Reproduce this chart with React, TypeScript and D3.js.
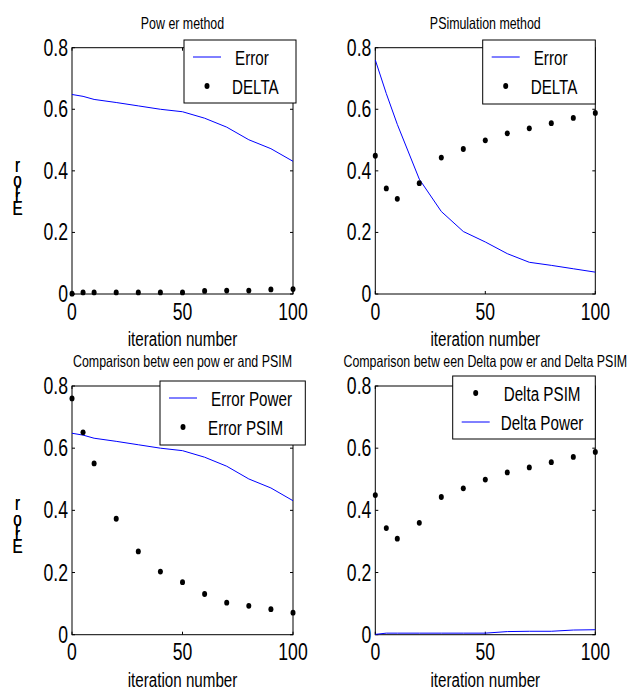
import React, { useEffect, useRef } from 'react';
import * as d3 from 'd3';

// iteration numbers shared by all four panels
const iterations = [0, 5, 10, 20, 30, 40, 50, 60, 70, 80, 90, 100];

const powerError = [0.648, 0.642, 0.632, 0.622, 0.611, 0.600, 0.592, 0.571, 0.542, 0.501, 0.472, 0.431];
const powerDelta = [0.001, 0.005, 0.005, 0.005, 0.005, 0.005, 0.005, 0.010, 0.011, 0.011, 0.015, 0.016];
const psimError = [0.760, 0.651, 0.551, 0.373, 0.268, 0.203, 0.169, 0.131, 0.103, 0.093, 0.082, 0.071];
const psimDelta = [0.449, 0.343, 0.309, 0.360, 0.443, 0.471, 0.499, 0.522, 0.538, 0.555, 0.572, 0.588];

const xTicks = [0, 50, 100];
const yTicks = [0, 0.2, 0.4, 0.6, 0.8];

const titles = [
  'Pow er method',
  'PSimulation method',
  'Comparison betw een pow er and PSIM',
  'Comparison betw een Delta pow er and Delta PSIM',
];

const WIDTH = 632;
const HEIGHT = 691;
const FONT = "'Liberation Sans', Arial, sans-serif";
const SQUEEZE = 0.8;
const STRETCH = 1.05;

type Kind = 'line' | 'dot';
interface Series { values: number[]; kind: Kind; label: string; }
interface Panel {
  title: string;
  left: number; right: number; top: number; bottom: number;
  series: Series[]; // in legend order
  legend: { x: number; y: number; w: number; h: number };
}

const cols = [{ left: 72, right: 293 }, { left: 375.3, right: 595.3 }];
const rows = [{ top: 47.7, bottom: 294 }, { top: 386, bottom: 634.7 }];

const panels: Panel[] = [
  {
    title: titles[0], ...cols[0], ...rows[0],
    series: [
      { values: powerError, kind: 'line', label: 'Error' },
      { values: powerDelta, kind: 'dot', label: 'DELTA' },
    ],
    legend: { x: 184, y: 40, w: 112, h: 63 },
  },
  {
    title: titles[1], ...cols[1], ...rows[0],
    series: [
      { values: psimError, kind: 'line', label: 'Error' },
      { values: psimDelta, kind: 'dot', label: 'DELTA' },
    ],
    legend: { x: 482.7, y: 40, w: 112.6, h: 64 },
  },
  {
    title: titles[2], ...cols[0], ...rows[1],
    series: [
      { values: powerError, kind: 'line', label: 'Error Power' },
      { values: psimError, kind: 'dot', label: 'Error PSIM' },
    ],
    legend: { x: 160, y: 381, w: 145.3, h: 64 },
  },
  {
    title: titles[3], ...cols[1], ...rows[1],
    series: [
      { values: psimDelta, kind: 'dot', label: 'Delta PSIM' },
      { values: powerDelta, kind: 'line', label: 'Delta Power' },
    ],
    legend: { x: 452.7, y: 376, w: 142.6, h: 63 },
  },
];

type G = d3.Selection<SVGGElement, unknown, null, undefined>;

function addText(g: G, x: number, y: number, str: string, size: number, anchor = 'start') {
  return g.append('text')
    .attr('transform', `translate(${x},${y}) scale(${SQUEEZE},${STRETCH})`)
    .attr('text-anchor', anchor)
    .attr('font-family', FONT)
    .attr('font-size', size)
    .attr('fill', '#000')
    .text(str);
}

function drawPanel(root: G, p: Panel) {
  const x = d3.scaleLinear().domain([0, 100]).range([p.left, p.right]);
  const y = d3.scaleLinear().domain([0, 0.8]).range([p.bottom, p.top]);
  const g = root.append('g');

  // frame
  g.append('rect')
    .attr('x', p.left).attr('y', p.top)
    .attr('width', p.right - p.left).attr('height', p.bottom - p.top)
    .attr('fill', 'none').attr('stroke', '#000').attr('stroke-width', 1);

  // inward ticks on all four sides
  const tl = 3;
  xTicks.forEach((t) => {
    g.append('line').attr('x1', x(t)).attr('x2', x(t)).attr('y1', p.bottom).attr('y2', p.bottom - tl).attr('stroke', '#000');
    g.append('line').attr('x1', x(t)).attr('x2', x(t)).attr('y1', p.top).attr('y2', p.top + tl).attr('stroke', '#000');
    addText(g, x(t), p.bottom + 25.5, String(t), 22, 'middle');
  });
  yTicks.forEach((t) => {
    g.append('line').attr('x1', p.left).attr('x2', p.left + tl).attr('y1', y(t)).attr('y2', y(t)).attr('stroke', '#000');
    g.append('line').attr('x1', p.right).attr('x2', p.right - tl).attr('y1', y(t)).attr('y2', y(t)).attr('stroke', '#000');
    addText(g, p.left - 4, y(t) + 8, t === 0 ? '0' : d3.format('.1f')(t), 22, 'end');
  });

  const line = d3.line<number>()
    .x((_, i) => x(iterations[i]))
    .y((d) => y(d));

  p.series.forEach((s) => {
    if (s.kind === 'line') {
      g.append('path')
        .datum(s.values)
        .attr('d', line)
        .attr('fill', 'none')
        .attr('stroke', '#0000ff')
        .attr('stroke-width', 1);
    } else {
      g.selectAll(null)
        .data(s.values)
        .enter()
        .append('ellipse')
        .attr('cx', (_, i) => x(iterations[i]))
        .attr('cy', (d) => y(d))
        .attr('rx', 2.5)
        .attr('ry', 2.9)
        .attr('fill', '#000');
    }
  });

  // titles and labels
  const cx = (p.left + p.right) / 2;
  addText(g, cx, p.top - 19, p.title, 15.5, 'middle');
  addText(g, cx, p.bottom + 52, 'iteration number', 19, 'middle');

  // stacked, overlapping y label as MATLAB rendered it: one text, upright letters
  const yl = g.append('text')
    .attr('transform', `translate(17.5,${p.top + 124}) scale(${SQUEEZE},${STRETCH})`)
    .attr('text-anchor', 'middle')
    .attr('font-family', FONT)
    .attr('font-size', 19)
    .attr('fill', '#000');
  const letters = [
    { ch: 'r', dy: 0 },
    { ch: 'o', dy: 15 },
    { ch: 'r', dy: 9 },
    { ch: 'r', dy: 6 },
    { ch: 'E', dy: 11 },
  ];
  letters.forEach((c) => yl.append('tspan').attr('x', 0).attr('dy', c.dy).text(c.ch));

  // legend
  const L = p.legend;
  g.append('rect')
    .attr('x', L.x).attr('y', L.y).attr('width', L.w).attr('height', L.h)
    .attr('fill', '#fff').attr('stroke', '#000').attr('stroke-width', 1);
  const rowY = [L.y + 17, L.y + 46];
  p.series.forEach((s, i) => {
    if (s.kind === 'line') {
      g.append('line')
        .attr('x1', L.x + 9).attr('x2', L.x + 37)
        .attr('y1', rowY[i]).attr('y2', rowY[i])
        .attr('stroke', '#0000ff').attr('stroke-width', 1);
    } else {
      g.append('ellipse')
        .attr('cx', L.x + 23).attr('cy', rowY[i])
        .attr('rx', 2.5).attr('ry', 2.9)
        .attr('fill', '#000');
    }
    addText(g, L.x + (i === 0 ? 51 : 48), rowY[i] + 7.5, s.label, 19);
  });
}

export default function App() {
  const ref = useRef<SVGSVGElement>(null);

  useEffect(() => {
    if (!ref.current) return;
    const svg = d3.select(ref.current);
    svg.selectAll('*').remove();
    svg.append('rect').attr('width', WIDTH).attr('height', HEIGHT).attr('fill', '#fff');
    const root = svg.append('g');
    panels.forEach((p) => drawPanel(root, p));
  }, []);

  return (
    <svg
      ref={ref}
      width={WIDTH}
      height={HEIGHT}
      style={{ position: 'absolute', left: 0, top: 0, display: 'block' }}
    />
  );
}
